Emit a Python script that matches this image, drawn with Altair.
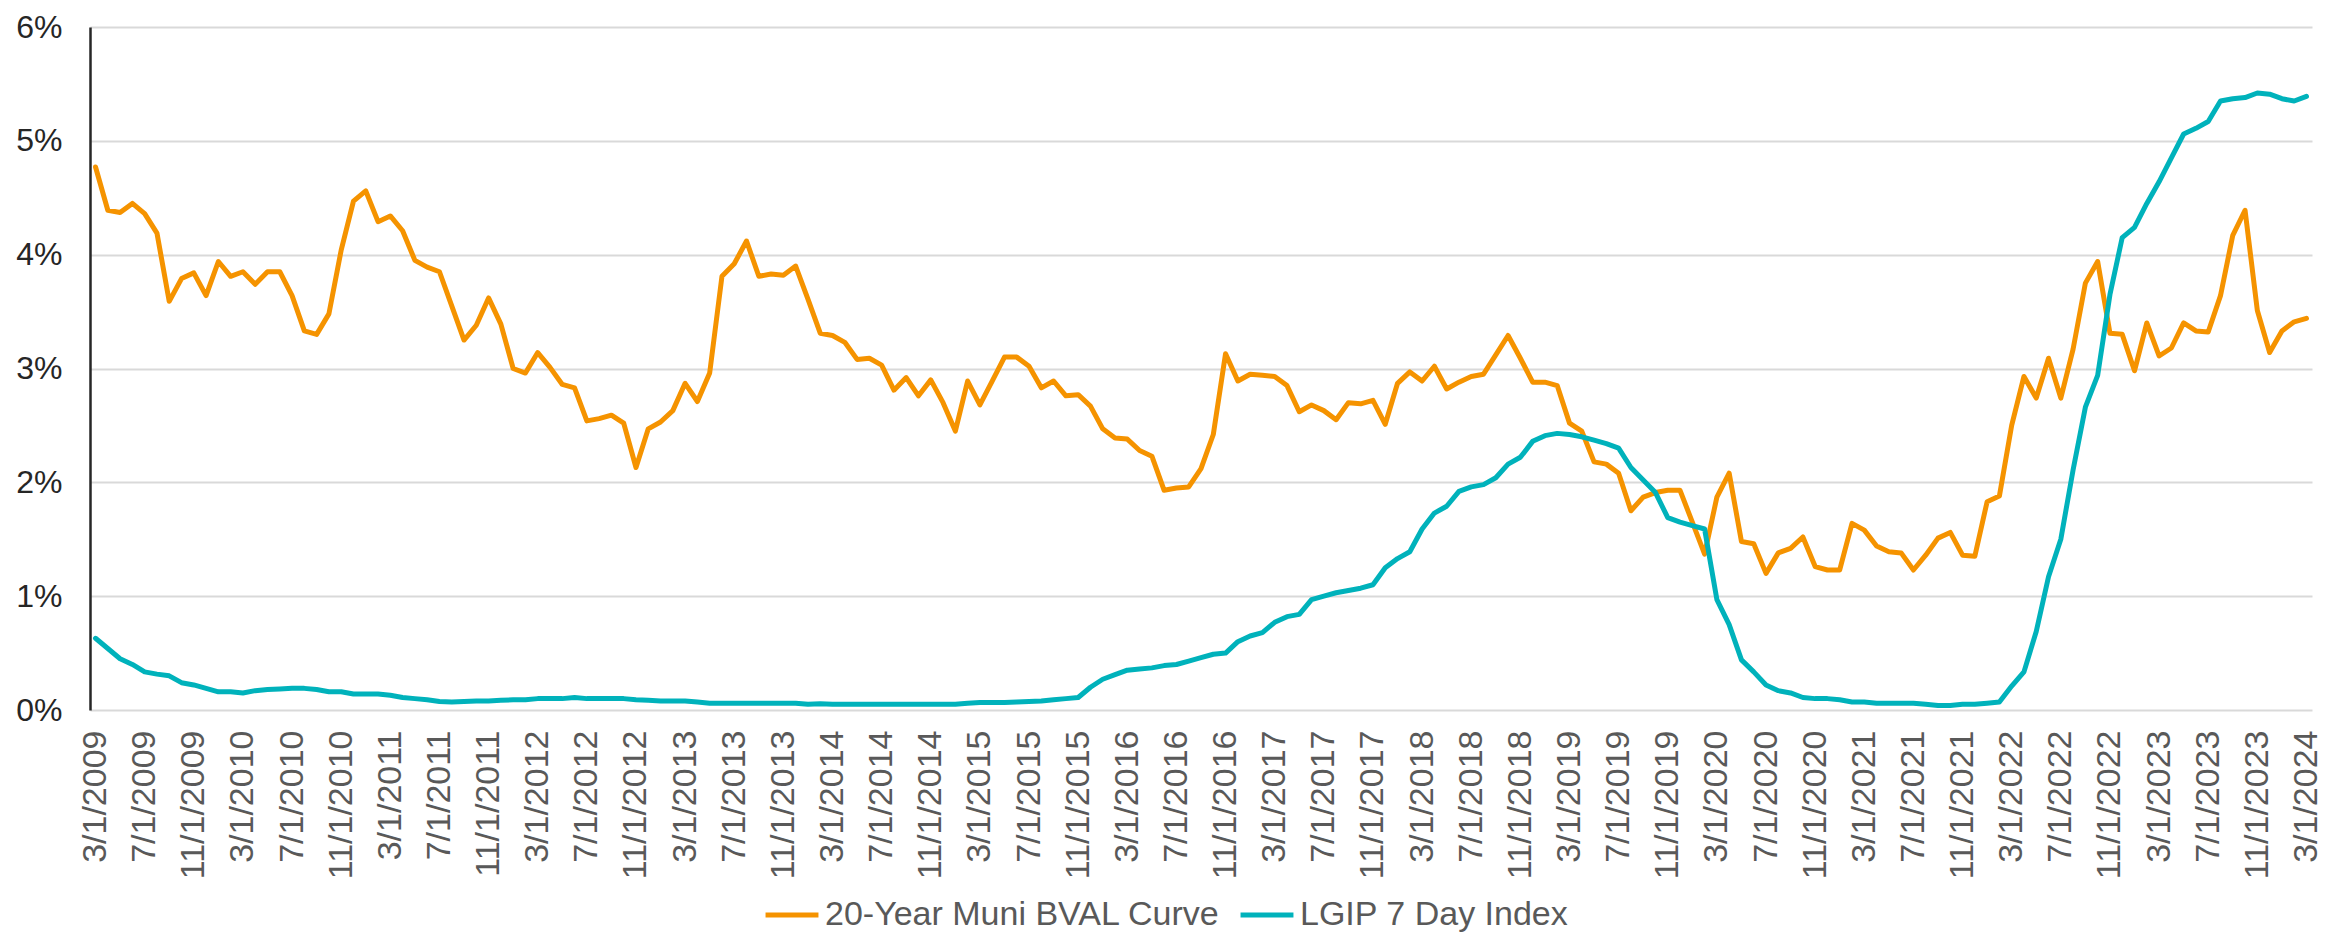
import altair as alt
import pandas as pd

# Monthly observations, 3/1/2009 .. 3/1/2024
dates = pd.date_range("2009-03-01", periods=181, freq="MS")
date_labels = [f"{d.month}/{d.day}/{d.year}" for d in dates]
tick_labels = date_labels[::4]

series_names = ["20-Year Muni BVAL Curve", "LGIP 7 Day Index"]
series_colors = ["#F59300", "#00B2BB"]

muni = [
    4.77, 4.39, 4.37, 4.45, 4.36, 4.19, 3.59, 3.79, 3.84, 3.64,
    3.94, 3.81, 3.85, 3.74, 3.85, 3.85, 3.64, 3.33, 3.30, 3.48,
    4.04, 4.47, 4.56, 4.29, 4.34, 4.21, 3.95, 3.89, 3.85, 3.55,
    3.25, 3.38, 3.62, 3.39, 3.00, 2.96, 3.14, 3.01, 2.86, 2.83,
    2.54, 2.56, 2.59, 2.52, 2.13, 2.47, 2.53, 2.63, 2.87, 2.71,
    2.96, 3.81, 3.92, 4.12, 3.81, 3.83, 3.82, 3.90, 3.61, 3.31,
    3.29, 3.23, 3.08, 3.09, 3.03, 2.81, 2.92, 2.76, 2.90, 2.70,
    2.45, 2.89, 2.68, 2.89, 3.10, 3.10, 3.02, 2.83, 2.89, 2.76,
    2.77, 2.67, 2.47, 2.39, 2.38, 2.28, 2.23, 1.93, 1.95, 1.96,
    2.12, 2.42, 3.13, 2.89, 2.95, 2.94, 2.93, 2.85, 2.62, 2.68,
    2.63, 2.55, 2.70, 2.69, 2.72, 2.51, 2.87, 2.97, 2.89, 3.02,
    2.82, 2.88, 2.93, 2.95, 3.12, 3.29, 3.09, 2.88, 2.88, 2.85,
    2.52, 2.45, 2.18, 2.16, 2.08, 1.75, 1.87, 1.91, 1.93, 1.93,
    1.65, 1.37, 1.87, 2.08, 1.48, 1.46, 1.20, 1.38, 1.42, 1.52,
    1.26, 1.23, 1.23, 1.64, 1.58, 1.44, 1.39, 1.38, 1.23, 1.36,
    1.51, 1.56, 1.36, 1.35, 1.83, 1.88, 2.50, 2.93, 2.74, 3.09,
    2.74, 3.17, 3.75, 3.94, 3.31, 3.30, 2.98, 3.40, 3.11, 3.18,
    3.40, 3.33, 3.32, 3.64, 4.17, 4.39, 3.51, 3.14, 3.33, 3.41,
    3.44,
]

lgip = [
    0.63, 0.54, 0.45, 0.40, 0.335, 0.315, 0.30, 0.24, 0.22, 0.19,
    0.16, 0.16, 0.15, 0.17, 0.18, 0.185, 0.19, 0.19, 0.18, 0.16,
    0.16, 0.14, 0.14, 0.14, 0.13, 0.11, 0.10, 0.09, 0.075, 0.07,
    0.075, 0.08, 0.08, 0.085, 0.09, 0.09, 0.10, 0.10, 0.10, 0.11,
    0.10, 0.10, 0.10, 0.10, 0.09, 0.085, 0.08, 0.08, 0.08, 0.07,
    0.06, 0.06, 0.06, 0.06, 0.06, 0.06, 0.06, 0.06, 0.05, 0.055,
    0.05, 0.05, 0.05, 0.05, 0.05, 0.05, 0.05, 0.05, 0.05, 0.05,
    0.05, 0.06, 0.065, 0.065, 0.065, 0.07, 0.075, 0.08, 0.09, 0.10,
    0.11, 0.20, 0.27, 0.31, 0.35, 0.36, 0.37, 0.39, 0.40, 0.43,
    0.46, 0.49, 0.50, 0.60, 0.65, 0.68, 0.77, 0.82, 0.84, 0.97,
    1.00, 1.03, 1.05, 1.07, 1.10, 1.25, 1.33, 1.39, 1.59, 1.73,
    1.79, 1.92, 1.96, 1.98, 2.04, 2.16, 2.22, 2.36, 2.41, 2.43,
    2.42, 2.40, 2.37, 2.34, 2.30, 2.13, 2.02, 1.91, 1.69, 1.65,
    1.62, 1.59, 0.97, 0.75, 0.44, 0.335, 0.22, 0.17, 0.15, 0.11,
    0.10, 0.10, 0.09, 0.07, 0.07, 0.06, 0.06, 0.06, 0.06, 0.05,
    0.04, 0.04, 0.05, 0.05, 0.06, 0.07, 0.21, 0.335, 0.69, 1.17,
    1.50, 2.11, 2.66, 2.94, 3.65, 4.15, 4.24, 4.45, 4.64, 4.85,
    5.06, 5.11, 5.17, 5.35, 5.37, 5.38, 5.42, 5.41, 5.37, 5.35,
    5.39,
]

y_ticks = [0, 1, 2, 3, 4, 5, 6]

df = pd.DataFrame({
    "date": date_labels * 2,
    "value": muni + lgip,
    "series": [series_names[0]] * len(muni) + [series_names[1]] * len(lgip),
})

FONT = "Liberation Sans"

chart = (
    alt.Chart(df)
    .mark_line(strokeWidth=5, strokeJoin="round", strokeCap="round")
    .encode(
        x=alt.X(
            "date:O",
            sort=date_labels,
            scale=alt.Scale(type="point", padding=0.45),
            axis=alt.Axis(
                values=tick_labels,
                labelAngle=-90,
                ticks=False,
                domain=False,
                grid=False,
                labelFontSize=34,
                labelColor="#595959",
                labelFont=FONT,
                labelPadding=20,
                title=None,
            ),
        ),
        y=alt.Y(
            "value:Q",
            scale=alt.Scale(domain=[0, 6], nice=False),
            axis=alt.Axis(
                values=y_ticks,
                labelExpr="datum.value + '%'",
                ticks=False,
                domain=True,
                domainColor="#262626",
                domainWidth=2.5,
                gridColor="#d9d9d9",
                gridWidth=2,
                labelFontSize=32,
                labelColor="#262626",
                labelFont=FONT,
                labelPadding=28,
                title=None,
            ),
        ),
        color=alt.Color(
            "series:N",
            scale=alt.Scale(domain=series_names, range=series_colors),
            legend=alt.Legend(
                orient="none",
                legendX=673,
                legendY=859,
                direction="horizontal",
                title=None,
                labelFontSize=34,
                labelColor="#595959",
                labelFont=FONT,
                symbolType="stroke",
                symbolStrokeWidth=5,
                symbolSize=2800,
                labelOffset=4,
                columnPadding=10,
                labelLimit=0,
            ),
        ),
    )
    .properties(
        width=2222,
        height=683,
        autosize=alt.AutoSizeParams(type="none"),
        padding={"left": 82, "top": 19, "right": 20, "bottom": 222},
    )
    .configure_view(stroke=None)
)

chart.save("out.html", embed_options={"renderer": "svg", "actions": False})
